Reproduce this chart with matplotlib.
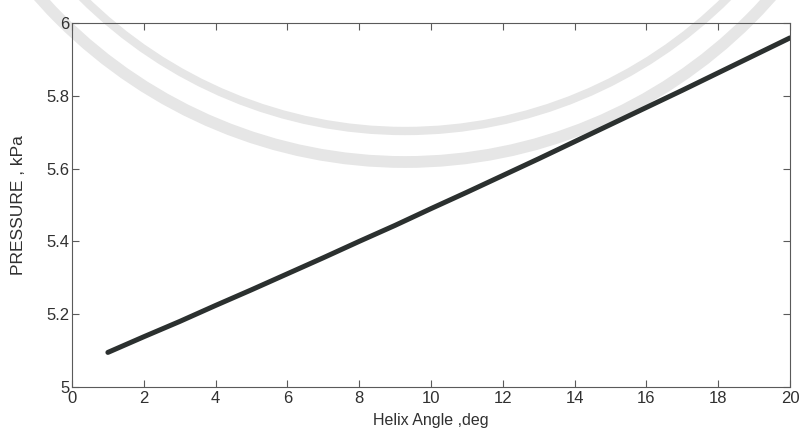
import matplotlib
matplotlib.use("Agg")
import matplotlib.pyplot as plt
from matplotlib.patches import Circle

# helix angle (deg) and chamber pressure (kPa)
helix_angle = [1, 2, 3, 4, 5, 6, 7, 8, 9, 10,
               11, 12, 13, 14, 15, 16, 17, 18, 19, 20]
pressure = [5.095, 5.138, 5.180, 5.224, 5.267, 5.311, 5.355, 5.400, 5.444, 5.490,
            5.535, 5.581, 5.627, 5.674, 5.721, 5.768, 5.815, 5.863, 5.911, 5.959]
x_ticks = [0, 2, 4, 6, 8, 10, 12, 14, 16, 18, 20]
y_ticks = [5, 5.2, 5.4, 5.6, 5.8, 6]
y_tick_labels = ["5", "5.2", "5.4", "5.6", "5.8", "6"]

sans = ["Liberation Sans", "DejaVu Sans"]
ink = "#303030"
frame = "#5a5a5a"

fig = plt.figure(figsize=(7.99, 4.36), dpi=100)

# faint seal rings behind the plot, in pixel units
bg = fig.add_axes([0, 0, 1, 1])
bg.set_xlim(0, 799)
bg.set_ylim(436, 0)
bg.axis("off")
bg.add_patch(Circle((405, -326), 488, fill=False, lw=8.5, ec="#e6e6e6"))
bg.add_patch(Circle((405, -326), 457, fill=False, lw=6.0, ec="#e6e6e6"))

ax = fig.add_axes([0.0901, 0.1124, 0.8986, 0.8349])
ax.set_facecolor("none")
ax.plot(helix_angle, pressure, color="#2b302f", lw=3.6, solid_capstyle="round")

ax.set_xlim(0, 20)
ax.set_ylim(5, 6)
ax.set_xticks(x_ticks)
ax.set_yticks(y_ticks)
ax.set_yticklabels(y_tick_labels)

ax.tick_params(direction="in", length=5, width=0.8, color=frame,
               top=True, right=True, labelcolor=ink)
ax.tick_params(axis="x", pad=3)
ax.tick_params(axis="y", pad=2)
for lab in ax.get_xticklabels() + ax.get_yticklabels():
    lab.set_family(sans)
    lab.set_fontsize(12)
for s in ax.spines.values():
    s.set_color(frame)
    s.set_linewidth(0.8)

ax.set_xlabel("Helix Angle ,deg", family=sans, fontsize=11.5, color=ink, labelpad=5)
fig.text(0.023, 0.53, "PRESSURE , kPa", rotation=90, ha="center", va="center",
         family=sans, fontsize=12.5, color=ink)

fig.savefig("out.png", dpi=100)
